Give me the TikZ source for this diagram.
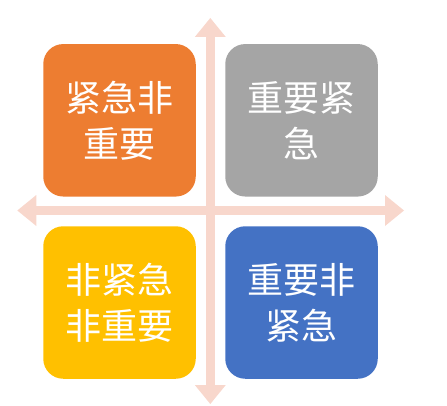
\documentclass[tikz,border=0pt]{standalone}
\usepackage{fontspec}
\newfontfamily\cjk{Noto Sans CJK SC}
\usepackage{xcolor}
\usetikzlibrary{arrows.meta}
\definecolor{urgentorange}{HTML}{ED7D31}
\definecolor{importantgray}{HTML}{A5A5A5}
\definecolor{neitheryellow}{HTML}{FFC000}
\definecolor{importantblue}{HTML}{4472C4}
\definecolor{axispeach}{HTML}{F8D7CC}

\begin{document}
\begin{tikzpicture}[x=1pt, y=1pt,
  quad/.style={rounded corners=20pt, minimum size=152.5pt, inner sep=0pt,
    align=center, text=white, font=\cjk\fontsize{36}{46}\selectfont},
  axis/.style={line width=9.5pt, draw=axispeach,
    {Triangle[width=31pt, length=19pt, line width=0pt]}-{Triangle[width=31pt, length=19pt, line width=0pt]}}
]
  \useasboundingbox (0,0) rectangle (447,405);
  \def\cx{210.3}
  \def\cy{194.5}
  % axes
  \coordinate (top) at (\cx, 387);
  \coordinate (bottom) at (\cx, 1);
  \coordinate (left) at (17.3, \cy);
  \coordinate (right) at (404, \cy);
  \draw[axis] (bottom) -- (top);
  \draw[axis] (left) -- (right);
  % quadrants
  \node[quad, fill=urgentorange] (urgent) at (119.5, 284.7) {紧急非\\重要};
  \node[quad, fill=importantgray] (both) at (301.5, 284.7) {重要紧\\急};
  \node[quad, fill=neitheryellow] (neither) at (119.5, 102.5) {非紧急\\非重要};
  \node[quad, fill=importantblue] (important) at (301.5, 102.5) {重要非\\紧急};
\end{tikzpicture}
\end{document}
